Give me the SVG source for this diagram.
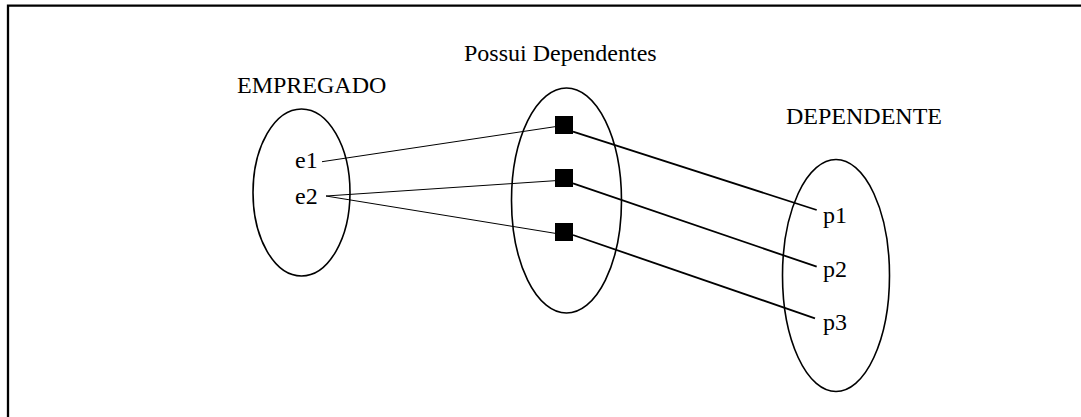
<svg xmlns="http://www.w3.org/2000/svg" width="1081" height="417" viewBox="0 0 1081 417">
<style>
text{font-family:"Liberation Serif","Times New Roman",serif;font-size:24px;fill:#000}
.set{fill:none;stroke:#000;stroke-width:1.6}
.thin{stroke:#000;stroke-width:1;fill:none}
.thick{stroke:#000;stroke-width:1.8;fill:none}
.rel{fill:#000}
</style>
<rect width="1081" height="417" fill="#fff"/>
<path d="M8,417 V5.7 H1081" fill="none" stroke="#000" stroke-width="2.3"/>
<g id="empregado">
<ellipse class="set" cx="301.5" cy="192.5" rx="48.5" ry="83.5"/>
<text x="237" y="93">EMPREGADO</text>
<text x="295" y="168">e1</text>
<text x="295" y="204">e2</text>
</g>
<g id="possui">
<ellipse class="set" cx="566.5" cy="200.5" rx="55" ry="112.5"/>
<text x="464" y="61">Possui Dependentes</text>
<rect class="rel" x="555" y="116" width="18" height="18"/>
<rect class="rel" x="555" y="169" width="18" height="18"/>
<rect class="rel" x="555" y="223" width="18" height="18"/>
</g>
<g id="dependente">
<ellipse class="set" cx="836" cy="275.5" rx="53.5" ry="116"/>
<text x="786" y="124">DEPENDENTE</text>
<text x="823" y="223">p1</text>
<text x="823" y="277">p2</text>
<text x="823" y="330">p3</text>
</g>
<g id="connectors">
<line class="thin" x1="322" y1="161.7" x2="555" y2="126.7"/>
<line class="thin" x1="326" y1="196" x2="555" y2="180.7"/>
<line class="thin" x1="326" y1="196" x2="555" y2="233.3"/>
<line class="thick" x1="573" y1="131.7" x2="816.7" y2="210"/>
<line class="thick" x1="573" y1="183.3" x2="816.7" y2="266.7"/>
<line class="thick" x1="573" y1="235" x2="815" y2="318.3"/>
</g>
</svg>
